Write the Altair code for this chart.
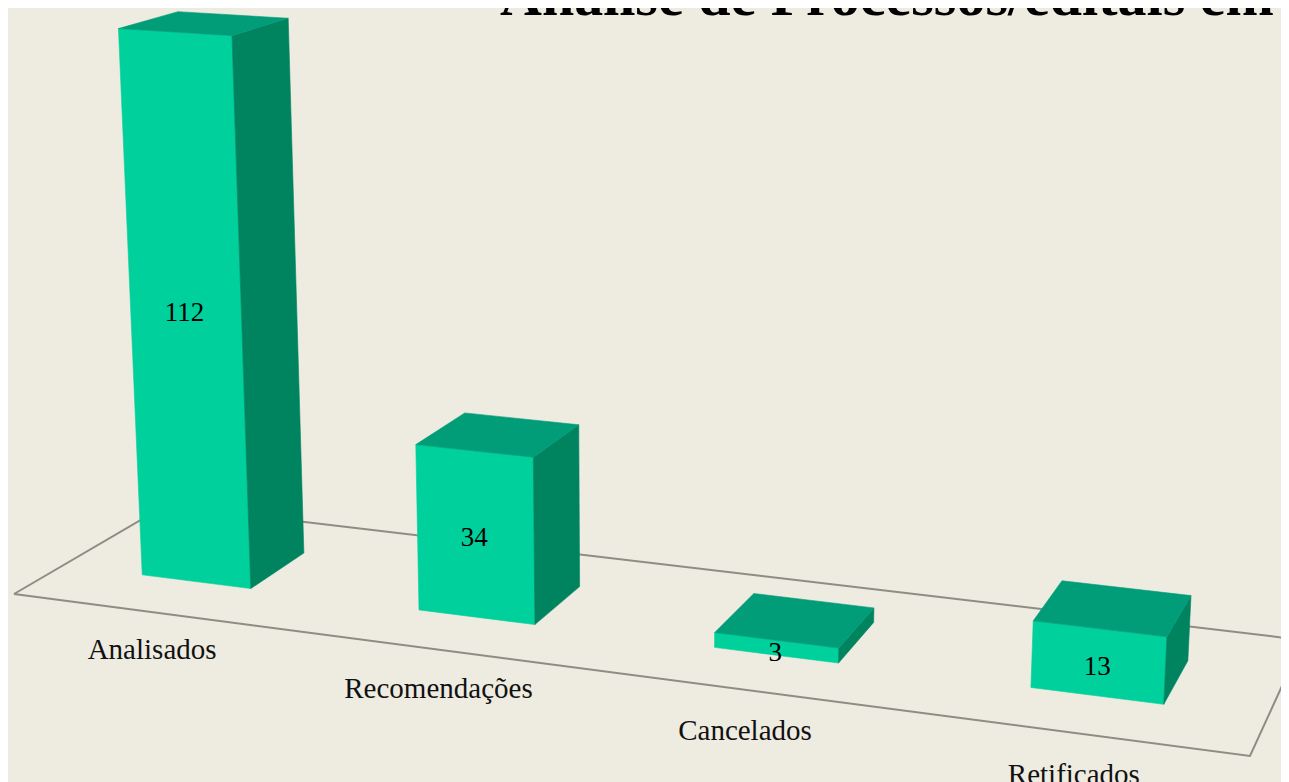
import altair as alt
import numpy as np
import pandas as pd

categories = ["Analisados", "Recomendações", "Cancelados", "Retificados"]
values = [112, 34, 3, 13]
title_text = "Análise de Processos/editais em"

BG = "#EEEBE0"
FRONT = "#00D09B"
TOP = "#009D78"
SIDE = "#00845F"
GRID = "#8E8C86"
SERIF = "Liberation Serif"

# perspective camera: floor corners (u, v) -> picture, vanishing point of the vertical
floor_uv = [(0, 0), (1, 0), (1, 1), (0, 1)]
floor_px = [(14, 594), (1250, 756), (1303, 640), (165.5, 505.5)]
vertical_vp = (640, 12000)
unit_height = 0.000423
bar_width = 0.1
u_shift = -0.0012
v_front, v_back = 0.31, 0.695
label_dv, label_du, label_h = 0.31, 0.001, -8


def homography(src, dst):
    A, b = [], []
    for (u, v), (x, y) in zip(src, dst):
        A.append([u, v, 1, 0, 0, 0, -u * x, -v * x])
        A.append([0, 0, 0, u, v, 1, -u * y, -v * y])
        b += [x, y]
    h = np.linalg.solve(np.array(A, float), np.array(b, float))
    return np.append(h, 1).reshape(3, 3)


G = homography(floor_uv, floor_px)
G = G / (G @ np.array([0.5, 0.5, 1]))[2]
column = unit_height * np.array([vertical_vp[0], vertical_vp[1], 1.0])


def project(u, v, h=0.0):
    p = G @ np.array([u, v, 1.0]) - h * column
    return p[0] / p[2], p[1] / p[2]


def polygon_rows(name, corners):
    rows = []
    for k, (u, v, h) in enumerate(corners + corners[:1]):
        x, y = project(u, v, h)
        rows.append({"poly": name, "k": k, "x": x, "y": y})
    return rows


front, top, side, value_rows, label_rows = [], [], [], [], []
for i, (cat, val) in enumerate(zip(categories, values)):
    c = (i + 0.5) / len(categories) + u_shift
    a, b = c - bar_width / 2, c + bar_width / 2
    front += polygon_rows(cat, [(a, v_front, 0), (b, v_front, 0), (b, v_front, val), (a, v_front, val)])
    side += polygon_rows(cat, [(b, v_front, 0), (b, v_back, 0), (b, v_back, val), (b, v_front, val)])
    top += polygon_rows(cat, [(a, v_front, val), (b, v_front, val), (b, v_back, val), (a, v_back, val)])
    x, y = project(c, v_front, val * 0.51)
    value_rows.append({"x": x, "y": y, "t": str(val)})
    x, y = project(c + label_du, v_front - label_dv, label_h)
    label_rows.append({"x": x, "y": y, "t": cat})

floor_rows = polygon_rows("floor", [(u, v, 0) for u, v in floor_uv])

xs = alt.X("x:Q", axis=None, scale=alt.Scale(domain=[8, 1281], nice=False, zero=False))
ys = alt.Y("y:Q", axis=None, scale=alt.Scale(domain=[782, 8], nice=False, zero=False))


def faces(rows, color):
    return alt.Chart(pd.DataFrame(rows)).mark_line(
        fill=color, stroke=color, strokeWidth=0.6, clip=True, interpolate="linear"
    ).encode(x=xs, y=ys, detail="poly:N", order="k:Q")


floor = alt.Chart(pd.DataFrame(floor_rows)).mark_line(
    stroke=GRID, strokeWidth=2, clip=True
).encode(x=xs, y=ys, order="k:Q")

value_text = alt.Chart(pd.DataFrame(value_rows)).mark_text(
    font=SERIF, fontSize=27, color="#000000", baseline="middle", align="center", dx=-1, dy=5
).encode(x=xs, y=ys, text="t:N")

label_text = alt.Chart(pd.DataFrame(label_rows)).mark_text(
    font=SERIF, fontSize=29, color="#111111", baseline="middle", align="center", clip=True
).encode(x=xs, y=ys, text="t:N")

title_mark = alt.Chart(pd.DataFrame([{"x": 500, "y": 15, "t": title_text}])).mark_text(
    font=SERIF, fontSize=58, fontWeight="bold", color="#000000",
    baseline="alphabetic", align="left", clip=True
).encode(x=xs, y=ys, text="t:N")

chart = alt.layer(
    floor, faces(front, FRONT), faces(side, SIDE), faces(top, TOP),
    value_text, label_text, title_mark
).properties(
    width=1273, height=774, background=BG, padding=0,
    autosize=alt.AutoSizeParams(type="none")
).configure_view(stroke=None)

chart.save("out.html", embed_options={"renderer": "svg", "actions": False})
